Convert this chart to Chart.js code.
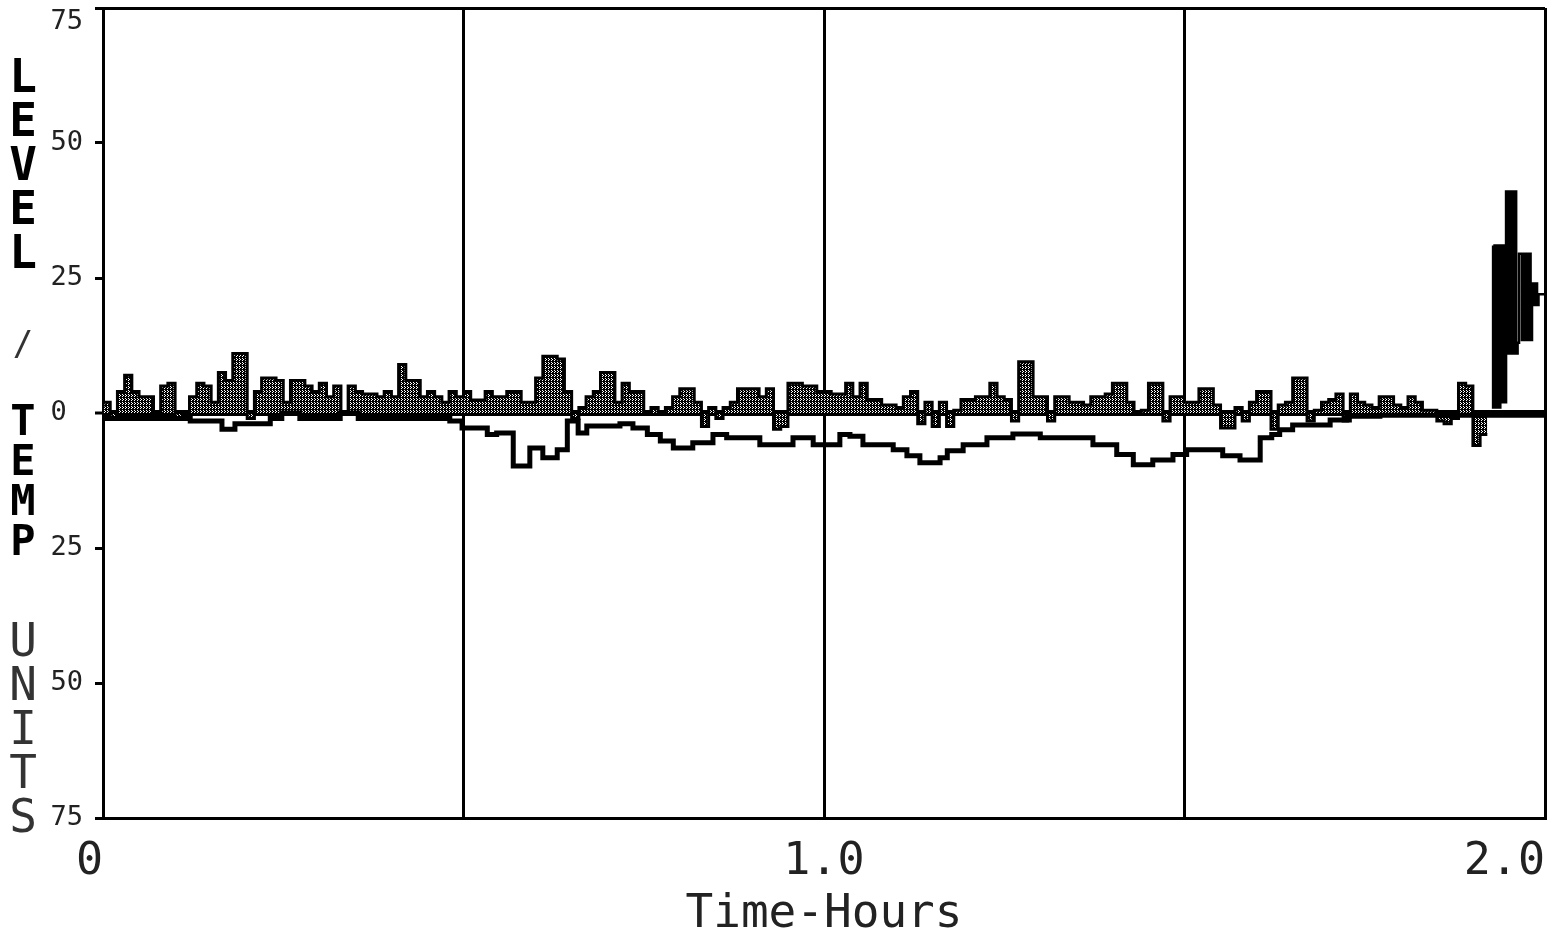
<!DOCTYPE html>
<html>
<head>
<meta charset="utf-8">
<title>Level / Temp Units</title>
<script src="https://cdn.jsdelivr.net/npm/chart.js@4.4.1/dist/chart.umd.min.js"></script>
<style>
    html, body { margin: 0; padding: 0; background: #fff; }
    #wrap { position: relative; width: 1559px; height: 933px; overflow: hidden; }
    #grafico { position: absolute; left: 0; top: 0; }
    .tituloY { position: absolute; left: 8px; width: 30px; text-align: center; font-family: 'DejaVu Sans Mono', monospace; }
    #tLevel { top: 54px; font-size: 46px; line-height: 44px; font-weight: bold; color: #000; }
    #tBarra { top: 326px; font-size: 34px; line-height: 34px; color: #333; }
    #tTemp { top: 401px; font-size: 42px; line-height: 40px; font-weight: bold; color: #000; }
    #tUnits { top: 618px; font-size: 46px; line-height: 44px; color: #333; }
</style>
</head>
<body>
<div id="wrap">
    <canvas id="grafico" width="1559" height="933"></canvas>
    <div class="tituloY" id="tLevel">L<br>E<br>V<br>E<br>L</div>
    <div class="tituloY" id="tBarra">/</div>
    <div class="tituloY" id="tTemp">T<br>E<br>M<br>P</div>
    <div class="tituloY" id="tUnits">U<br>N<br>I<br>T<br>S</div>
</div>
<script>
// nivel amostrado a cada 0.01 h (0.00 .. 1.92)
const levelStepHours = 0.01;
const levelValues = [
    1, 2, -1, 4, 7, 4, 3, 3, 0, 5,
    5.5, -1, 0, 3, 5.5, 5, 2, 7.5, 6, 11,
    11, -1, 4, 6.5, 6.5, 6, 2, 6, 6, 5,
    4, 5.5, 3, 5, 0, 5, 4, 3.5, 3.5, 3,
    4, 3, 9, 6, 6, 3, 4, 3, 2, 4,
    3, 4, 2.4, 2.4, 4, 3, 3, 4, 4, 2,
    2, 6.5, 10.5, 10.5, 10, 4, -1, 1, 3, 4,
    7.5, 7.5, 2, 5.5, 4, 4, 0, 1, 0, 1,
    3, 4.5, 4.5, 2, -2.5, 1, -1, 1, 2, 4.5,
    4.5, 4.5, 3, 4.5, -3, -2.5, 5.5, 5.5, 5, 5,
    4, 4, 3.5, 3.5, 5.5, 3, 5.5, 2.5, 2.5, 1.5,
    1.5, 1, 3, 4, -2, 2, -2.5, 2, -2.5, 0.5,
    2.5, 2.5, 3, 3, 5.5, 3, 2.5, -1.5, 9.5, 9.5,
    3, 3, -1.5, 3, 3, 2, 2, 1.5, 3, 3,
    3.5, 5.5, 5.5, 2, 0, 0.5, 5.5, 5.5, -1.5, 3,
    3, 2, 2, 4.5, 4.5, 1.5, -2.8, -2.8, 1, -1.5,
    2, 4, 4, -3, 1.5, 2, 6.5, 6.5, -1.5, 0.5,
    2, 2.5, 3.5, -1.5, 3.5, 2, 1.5, 1, 3, 3,
    1.5, 1, 3, 2, 0.5, 0.5, -1.5, -2, -1, 5.5,
    5, -6, -4
];

// trecho final com oscilacao rapida
const burstHours = [
    1.928, 1.930, 1.932, 1.934, 1.936, 1.938, 1.940, 1.942, 1.944, 1.946,
    1.948, 1.950, 1.952, 1.954, 1.956, 1.958, 1.960, 1.962, 1.964,
    1.968, 1.970, 1.972, 1.974, 1.976, 1.978, 1.980, 1.982,
    1.985, 1.987, 1.989, 1.991, 1.994, 2.0
];
const burstValues = [
    31, 1, 31, 1, 31, 1, 31, 2, 31, 2,
    41, 11, 41, 11, 41, 11, 41, 11, 13,
    29.5, 13.5, 29.5, 13.5, 29.5, 13.5, 29.5, 13.5,
    24, 20, 24, 20, 22, 22
];

const tempHours = [
    0, 0.121, 0.165, 0.183, 0.232, 0.248, 0.273, 0.329, 0.354, 0.481,
    0.498, 0.533, 0.546, 0.569, 0.592, 0.610, 0.630, 0.644, 0.659, 0.671,
    0.717, 0.735, 0.755, 0.773, 0.791, 0.818, 0.846, 0.865, 0.911, 0.957,
    0.985, 1.022, 1.036, 1.054, 1.096, 1.115, 1.133, 1.161, 1.171, 1.193,
    1.226, 1.262, 1.300, 1.373, 1.406, 1.429, 1.456, 1.484, 1.503, 1.553,
    1.577, 1.605, 1.621, 1.632, 1.650, 1.702, 1.725, 1.771, 1.854, 2.0
];
const tempValues = [
    0, -1, -1.5, -3, -2, -1, 0, -1, 0, -1,
    -1.5, -2.8, -4, -3.7, -9.8, -6.5, -8.3, -6.8, -1.5, -3.7,
    -2.4, -2, -2.8, -4, -5.2, -6.5, -5.5, -4, -4.6, -5.9,
    -4.6, -5.9, -4, -4.3, -5.9, -6.8, -7.9, -9.2, -8.3, -7,
    -5.9, -4.6, -3.9, -4.6, -5.9, -7.7, -9.6, -8.7, -7.7, -6.8,
    -7.9, -8.7, -4.6, -4, -3.1, -2.2, -1.3, -0.6, -0.4, -0.4
];

const xLabelHours = [0, 1, 2];
const xLabelTexts = ['0', '1.0', '2.0'];

const fonteMono = 'DejaVu Sans Mono';

// hachura vertical escura para o preenchimento do nivel
const criarHachura = () => {
    const c = document.createElement('canvas');
    c.width = 3;
    c.height = 4;
    const g = c.getContext('2d');
    g.fillStyle = '#000';
    g.fillRect(0, 0, 3, 4);
    g.fillStyle = '#fff';
    g.fillRect(2, 0, 1, 1);
    g.fillRect(2, 2, 1, 1);
    g.fillRect(0, 3, 1, 1);
    return g.createPattern(c, 'repeat');
};

const levelPoints = levelValues.map((v, i) => ({ x: i * levelStepHours, y: v }));
const burstPoints = burstHours.map((h, i) => ({ x: h, y: burstValues[i] }));
const tempPoints = tempHours.map((h, i) => ({ x: h, y: tempValues[i] }));

const ctx = document.getElementById('grafico');

new Chart(ctx, {
    type: 'line',
    data: {
        datasets: [
            {
                label: 'Temp',
                data: tempPoints,
                stepped: 'after',
                borderColor: '#000',
                borderWidth: 5,
                fill: false,
                pointRadius: 0
            },
            {
                label: 'Level',
                data: levelPoints,
                stepped: 'after',
                borderColor: '#000',
                borderWidth: 3,
                backgroundColor: criarHachura(),
                fill: 'origin',
                pointRadius: 0
            },
            {
                label: 'Level (final)',
                data: burstPoints,
                stepped: 'after',
                borderColor: '#000',
                borderWidth: 2.5,
                fill: false,
                pointRadius: 0
            }
        ]
    },
    options: {
        responsive: false,
        animation: false,
        layout: { padding: { top: 8, right: 14, left: 0, bottom: 0 } },
        plugins: {
            legend: { display: false },
            tooltip: { enabled: false }
        },
        scales: {
            x: {
                type: 'linear',
                min: 0,
                max: 2,
                afterFit: (s) => {
                    s.height = 115;
                    s.paddingLeft = 0;
                    s.paddingRight = 0;
                },
                ticks: {
                    stepSize: 0.5,
                    autoSkip: false,
                    maxRotation: 0,
                    padding: 22,
                    color: '#222',
                    font: { family: fonteMono, size: 45, lineHeight: 1 },
                    callback: (v) => {
                        const k = xLabelHours.indexOf(v);
                        if (k < 0) return '';
                        if (k === 0) return xLabelTexts[k] + ' ';
                        if (k === xLabelHours.length - 1) return xLabelTexts[k] + '   ';
                        return xLabelTexts[k];
                    }
                },
                grid: { color: '#000', lineWidth: 3, drawTicks: false },
                border: { color: '#000', width: 3 },
                title: {
                    display: true,
                    text: 'Time-Hours',
                    color: '#222',
                    padding: { top: 0, bottom: 0 },
                    font: { family: fonteMono, size: 46, lineHeight: 0.8 }
                }
            },
            y: {
                min: -75,
                max: 75,
                afterFit: (s) => {
                    s.width = 103;
                    s.paddingTop = 0;
                    s.paddingBottom = 0;
                },
                ticks: {
                    stepSize: 25,
                    padding: 12,
                    color: '#222',
                    font: { family: fonteMono, size: 27, lineHeight: 1 },
                    callback: (v) => {
                        const txt = String(Math.abs(v)).padEnd(2, ' ');
                        return v === 75 ? ['', txt] : txt;
                    }
                },
                grid: {
                    color: (c) => (c.tick && (c.tick.value === 0 || c.tick.value === 75)) ? '#000' : 'rgba(0,0,0,0)',
                    lineWidth: (c) => (c.tick && c.tick.value === 0) ? 6 : 3,
                    tickColor: '#000',
                    tickWidth: 3,
                    tickLength: 8
                },
                border: { color: '#000', width: 3 }
            }
        }
    }
});
</script>
</body>
</html>
